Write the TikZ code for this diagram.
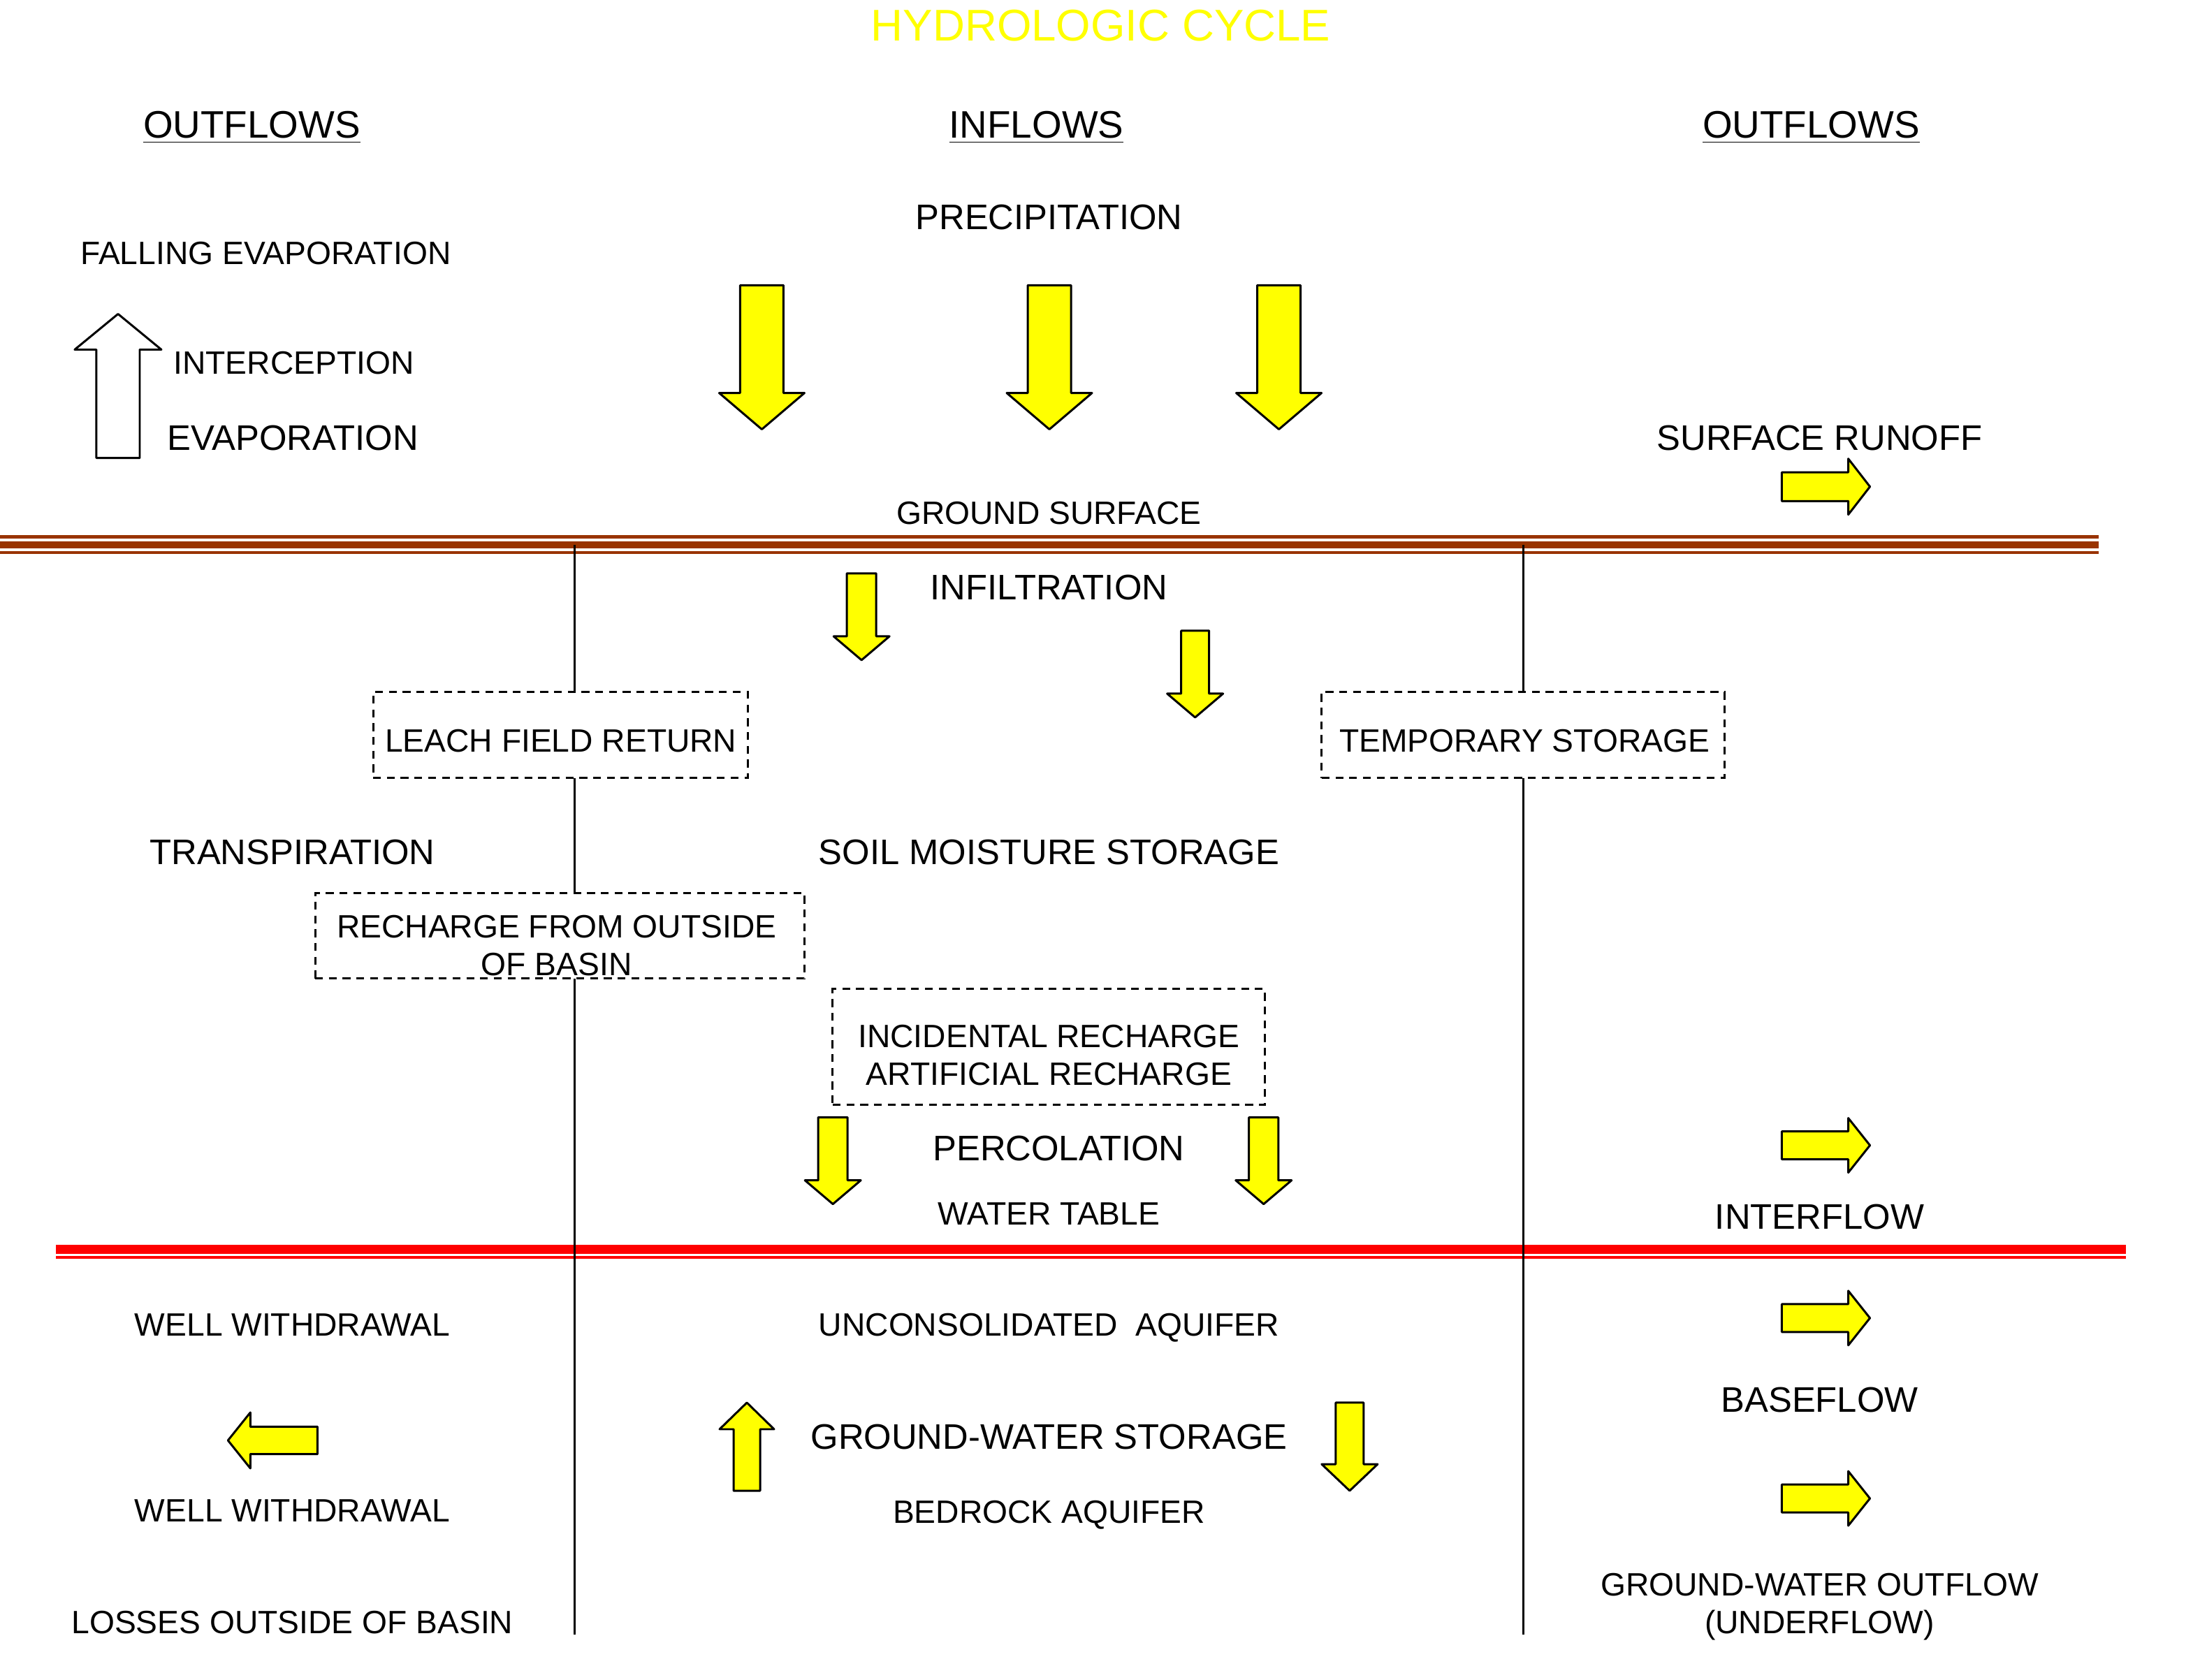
\documentclass[tikz,border=0pt]{standalone}
\usepackage{fontspec}
\setmainfont{Liberation Sans}
\usetikzlibrary{fit}
\definecolor{groundbrown}{RGB}{153,51,0}
\definecolor{tablered}{RGB}{255,0,0}
\definecolor{arrowyellow}{RGB}{255,255,0}
\begin{document}
\begin{tikzpicture}[x=0.02002cm, y=-0.02002cm,
  txtS/.style={inner sep=0pt, anchor=base, font=\fontsize{13.15}{15.5}\selectfont},
  txtL/.style={inner sep=0pt, anchor=base, font=\fontsize{14.45}{17}\selectfont},
  txtH/.style={inner sep=0pt, anchor=base, font=\fontsize{15.6}{18.5}\selectfont},
  titletxt/.style={inner sep=0pt, anchor=base, text=arrowyellow, font=\fontsize{18.1}{21}\selectfont},
  dashbox/.style={draw, fill=white, inner sep=0pt, line width=0.85pt, dash pattern=on 3.2pt off 2.4pt},
  divider/.style={line width=0.85pt, draw=black},
  gthinA/.style={line width=1.37pt, draw=groundbrown},
  gthick/.style={line width=2.85pt, draw=groundbrown},
  gthinB/.style={line width=1.25pt, draw=groundbrown},
  wthick/.style={line width=3.7pt, draw=tablered},
  wthin/.style={line width=1.14pt, draw=tablered},
  arrowline/.style={draw=black, line width=0.85pt, line join=round},
  pics/blockarr/.style n args={5}{code={%
    \path[arrowline, fill=#5] (0,0) -- (-#4,#3) -- (-#4,#2) -- (-#1,#2) -- (-#1,-#2) -- (-#4,-#2) -- (-#4,-#3) -- cycle;}}
]
\useasboundingbox (0,0) rectangle (1568,1201);
\fill[white] (0,0) rectangle (1568,1201);

% ground surface lines
\coordinate (gA1) at (0,383.8);    \coordinate (gA2) at (1500.6,383.8);
\coordinate (gB1) at (0,389.5);    \coordinate (gB2) at (1500.6,389.5);
\coordinate (gC1) at (0,395.2);    \coordinate (gC2) at (1500.6,395.2);
\draw[gthinA] (gA1) -- (gA2);
\draw[gthick] (gB1) -- (gB2);
\draw[gthinB] (gC1) -- (gC2);

% water table lines
\coordinate (wA1) at (40,893.3);   \coordinate (wA2) at (1520,893.3);
\coordinate (wB1) at (40,899);     \coordinate (wB2) at (1520,899);
\draw[wthick] (wA1) -- (wA2);
\draw[wthin] (wB1) -- (wB2);

% vertical dividers
\coordinate (vLtop) at (411,389.5);  \coordinate (vLbot) at (411,1169);
\coordinate (vRtop) at (1089,389.5); \coordinate (vRbot) at (1089,1169);
\draw[divider] (vLtop) -- (vLbot);
\draw[divider] (vRtop) -- (vRbot);

% dashed boxes
\node[dashbox, fit={(266.8,494.8) (534.5,556.4)}] (leachbox) {};
\node[dashbox, fit={(945,494.8) (1233,556.4)}] (tempbox) {};
\node[dashbox, fit={(225.3,638.5) (575,699.6)}] (rechbox) {};
\node[dashbox, fit={(595.4,707.3) (904.4,790)}] (incbox) {};

% title and headers
\node[titletxt] (title) at (787,29.3) {HYDROLOGIC CYCLE};
\node[txtH] (outL) at (180,98.8) {\underline{OUTFLOWS}};
\node[txtH] (inflows) at (741,98.8) {\underline{INFLOWS}};
\node[txtH] (outR) at (1295,98.8) {\underline{OUTFLOWS}};

% texts
\node[txtL] (precip) at (750,164) {PRECIPITATION};
\node[txtS] (falling) at (190,189.1) {FALLING EVAPORATION};
\node[txtS] (intercept) at (210,267.5) {INTERCEPTION};
\node[txtL] (evap) at (209.3,321.7) {EVAPORATION};
\node[txtL] (runoff) at (1301,322) {SURFACE RUNOFF};
\node[txtS] (gsurf) at (750,375.1) {GROUND SURFACE};
\node[txtL] (infil) at (750,429) {INFILTRATION};
\node[txtS] (leach) at (401,537.8) {LEACH FIELD RETURN};
\node[txtS] (temp) at (1090,537.8) {TEMPORARY STORAGE};
\node[txtL] (transp) at (209,618) {TRANSPIRATION};
\node[txtL] (soil) at (750,618) {SOIL MOISTURE STORAGE};
\node[txtS] (rech1) at (398,670.7) {RECHARGE FROM OUTSIDE};
\node[txtS] (rech2) at (398,697.6) {OF BASIN};
\node[txtS] (inc1) at (750,749) {INCIDENTAL RECHARGE};
\node[txtS] (inc2) at (750,775.8) {ARTIFICIAL RECHARGE};
\node[txtL] (perc) at (757,830) {PERCOLATION};
\node[txtS] (wtable) at (750,876.1) {WATER TABLE};
\node[txtL] (interflow) at (1301,879) {INTERFLOW};
\node[txtS] (well1) at (209,955.1) {WELL WITHDRAWAL};
\node[txtS] (uncons) at (750,955.1) {UNCONSOLIDATED\ \ AQUIFER};
\node[txtL] (baseflow) at (1301,1010) {BASEFLOW};
\node[txtL] (gwstor) at (750,1036) {GROUND-WATER STORAGE};
\node[txtS] (well2) at (209,1088.1) {WELL WITHDRAWAL};
\node[txtS] (bedrock) at (750,1089) {BEDROCK AQUIFER};
\node[txtS] (gwout) at (1301,1141.1) {GROUND-WATER OUTFLOW};
\node[txtS] (underflow) at (1301,1168.1) {(UNDERFLOW)};
\node[txtS] (losses) at (209,1168.1) {LOSSES OUTSIDE OF BASIN};

% block arrows
\pic[rotate=90] (evapArr) at (84.4,224.5) {blockarr={103}{15.5}{31}{25.5}{white}};
\pic[rotate=-90] (pr1) at (544.7,307) {blockarr={103}{15.5}{30.5}{26}{arrowyellow}};
\pic[rotate=-90] (pr2) at (750.3,307) {blockarr={103}{15.5}{30.5}{26}{arrowyellow}};
\pic[rotate=-90] (pr3) at (914.4,307) {blockarr={103}{15.5}{30.5}{26}{arrowyellow}};
\pic (ro) at (1337,348) {blockarr={63}{10.3}{20}{15.5}{arrowyellow}};
\pic[rotate=-90] (in1) at (616,472) {blockarr={62}{10.5}{20}{17}{arrowyellow}};
\pic[rotate=-90] (in2) at (854.5,513) {blockarr={62}{10}{20}{17}{arrowyellow}};
\pic[rotate=-90] (pc1) at (595.5,861) {blockarr={62}{10.5}{20}{17}{arrowyellow}};
\pic[rotate=-90] (pc2) at (903.5,861) {blockarr={62}{10.5}{20}{17}{arrowyellow}};
\pic (ifl) at (1337,819) {blockarr={63}{10}{19.5}{15.5}{arrowyellow}};
\pic (bfl) at (1337,942.5) {blockarr={63}{10}{19.5}{15.5}{arrowyellow}};
\pic (gwo) at (1337,1071.5) {blockarr={63}{10}{19.5}{15.5}{arrowyellow}};
\pic[rotate=180] (ww) at (163,1030) {blockarr={64}{9.8}{20}{16}{arrowyellow}};
\pic[rotate=90] (gwu) at (534,1003) {blockarr={63}{9.5}{19.5}{19}{arrowyellow}};
\pic[rotate=-90] (gwd) at (965,1066) {blockarr={63}{10}{20}{19}{arrowyellow}};
\end{tikzpicture}
\end{document}
